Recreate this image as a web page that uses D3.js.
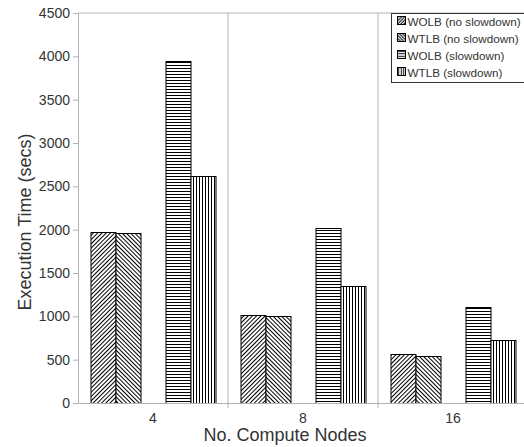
<!DOCTYPE html>
<html><head><meta charset="utf-8">
<script src="https://cdn.jsdelivr.net/npm/d3@7"></script>
<style>body{margin:0;background:#fff}svg{display:block}text{font-family:"Liberation Sans",Arial,sans-serif}</style>
</head><body><svg id="c" width="524" height="447"></svg>
<script>
const categories = ["4","8","16"];
const seriesNames = ["WOLB (no slowdown)","WTLB (no slowdown)","WOLB (slowdown)","WTLB (slowdown)"];
const wolbNoSlow = [1970, 1010, 560];
const wtlbNoSlow = [1960, 1005, 545];
const wolbSlow = [3950, 2015, 1110];
const wtlbSlow = [2620, 1345, 730];
const yTicks = [0,500,1000,1500,2000,2500,3000,3500,4000,4500];
const seriesValues = [wolbNoSlow, wtlbNoSlow, wolbSlow, wtlbSlow];
const slotKeys = ["s0","s1","gap","s2","s3"];

const svg = d3.select("#c");
const m = {l:78, t:13, b:44};
const W = 450, H = 447 - m.t - m.b;
const defs = svg.append("defs");
function pat(id, rot, s){
  const p = defs.append("pattern").attr("id",id).attr("patternUnits","userSpaceOnUse")
    .attr("width",s).attr("height",s).attr("patternTransform",`rotate(${rot})`);
  p.append("rect").attr("width",s).attr("height",s).attr("fill","#fff");
  p.append("line").attr("x1",0).attr("y1",s/2).attr("x2",s).attr("y2",s/2).attr("stroke","#000").attr("stroke-width",1);
}
pat("p0",-45,3); pat("p1",45,3); pat("p2",0,3); pat("p3",90,3);
pat("l0",-45,2.2); pat("l1",45,2.2); pat("l2",0,2.5); pat("l3",90,2.5);
const fills = ["url(#p0)","url(#p1)","url(#p2)","url(#p3)"];
const lfills = ["url(#l0)","url(#l1)","url(#l2)","url(#l3)"];

const g = svg.append("g").attr("transform",`translate(${m.l},${m.t})`);
const x = d3.scaleBand().domain(categories).range([0,W]).padding(0);
const xs = d3.scaleBand().domain(slotKeys).range([0,x.bandwidth()]).paddingInner(0).paddingOuter(0.5);
const y = d3.scaleLinear().domain([0,4500]).range([H,0]);

// frame / grid
g.append("line").attr("x1",0).attr("x2",W).attr("y1",0).attr("y2",0).attr("stroke","#b3b3b3");
categories.slice(1).forEach(c=>{
  g.append("line").attr("x1",x(c)).attr("x2",x(c)).attr("y1",0).attr("y2",H+5).attr("stroke","#b3b3b3");
});

// bars
const slotFor = ["s0","s1","s2","s3"];
seriesValues.forEach((vals,si)=>{
  g.selectAll(null).data(vals).enter().append("rect")
    .attr("x",(d,i)=>x(categories[i])+xs(slotFor[si])+0.5)
    .attr("y",d=>Math.round(y(d))+0.5)
    .attr("width",xs.bandwidth())
    .attr("height",d=>H-Math.round(y(d)))
    .attr("fill",fills[si]).attr("stroke","#000").attr("stroke-width",1);
});

// y axis
const ya = g.append("g").call(d3.axisLeft(y).tickValues(yTicks).tickFormat(d3.format("d")).tickSize(5).tickPadding(3));
ya.select(".domain").attr("stroke","#b3b3b3");
ya.selectAll(".tick line").attr("stroke","#b3b3b3");
ya.selectAll(".tick text").attr("fill","#333").style("font-size","14px");
// x axis
const xa = g.append("g").attr("transform",`translate(0,${H})`).call(d3.axisBottom(x).tickSize(0).tickPadding(10));
xa.select(".domain").attr("stroke","#b3b3b3");
xa.selectAll(".tick text").attr("fill","#333").style("font-size","14px");

// titles
svg.append("text").attr("x",285).attr("y",441).attr("text-anchor","middle").attr("fill","#333").style("font-size","18px").text("No. Compute Nodes");
svg.append("text").attr("transform","translate(31,222) rotate(-90)").attr("text-anchor","middle").attr("fill","#333").style("font-size","18px").text("Execution Time (secs)");

// legend
const lg = svg.append("g");
lg.append("rect").attr("x",391.5).attr("y",13.5).attr("width",140).attr("height",69).attr("fill","#fff").attr("stroke","#333");
seriesNames.forEach((n,i)=>{
  const yy = 21 + i*17;
  lg.append("rect").attr("x",397.5).attr("y",yy-4.5).attr("width",8).attr("height",8).attr("fill",lfills[i]).attr("stroke","#000");
  lg.append("text").attr("x",407.5).attr("y",yy+4.5).attr("fill","#333").style("font-size","11.7px").text(n);
});
</script></body></html>
